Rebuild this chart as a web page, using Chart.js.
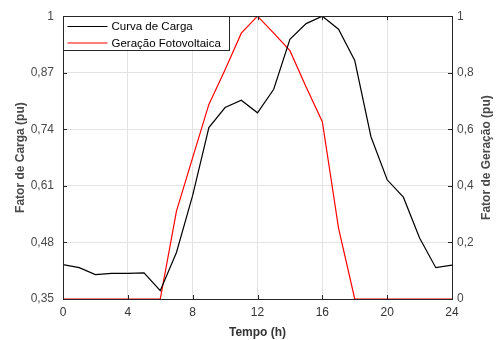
<!DOCTYPE html>
<html>
<head>
<meta charset="utf-8">
<script src="https://cdn.jsdelivr.net/npm/chart.js@4.4.1/dist/chart.umd.min.js"></script>
<style>
  html, body { margin: 0; padding: 0; background: #fff; }
  #wrap { width: 499px; height: 340px; }
</style>
</head>
<body>
<div id="wrap"><canvas id="perfilChart" width="499" height="340"></canvas></div>
<script>
// hourly profiles (pu)
const horas = [0, 1, 2, 3, 4, 5, 6, 7, 8, 9, 10, 11, 12, 13, 14, 15, 16, 17, 18, 19, 20, 21, 22, 23, 24];
const curvaCarga = [0.429, 0.422, 0.406, 0.409, 0.409, 0.410, 0.369, 0.457, 0.588, 0.744, 0.790, 0.807, 0.778,
  0.832, 0.947, 0.983, 1.0, 0.970, 0.898, 0.723, 0.624, 0.584, 0.490, 0.422, 0.428];
const geracaoPV = [0, 0, 0, 0, 0, 0, 0, 0.311, 0.50, 0.688, 0.811, 0.940, 1.0,
  0.94, 0.878, 0.75, 0.627, 0.251, 0, 0, 0, 0, 0, 0, 0];
const ticksHoras = [0, 4, 8, 12, 16, 20, 24];
const ticksCarga = [0.35, 0.48, 0.61, 0.74, 0.87, 1];
const ticksGeracao = [0, 0.2, 0.4, 0.6, 0.8, 1];

const FONT = '"Liberation Sans", Arial, Helvetica, sans-serif';
const TXT = '#4a4a4a';
const GRID = '#e3e3e3';
const EIXO = '#262626';

const virgula = v => String(+v.toFixed(2)).replace('.', ',');

// box around the axes plus inward tick marks on all four sides
const moldura = {
  id: 'moldura',
  afterDatasetsDraw(chart) {
    const { ctx, chartArea: a, scales } = chart;
    const len = 4;
    ctx.save();
    ctx.strokeStyle = EIXO;
    ctx.lineWidth = 1;
    ctx.beginPath();
    scales.x.ticks.forEach(t => {
      const px = Math.round(scales.x.getPixelForValue(t.value)) + 0.5;
      ctx.moveTo(px, a.bottom); ctx.lineTo(px, a.bottom - len);
      ctx.moveTo(px, a.top); ctx.lineTo(px, a.top + len);
    });
    scales.yL.ticks.forEach(t => {
      const py = Math.round(scales.yL.getPixelForValue(t.value)) + 0.5;
      ctx.moveTo(a.left, py); ctx.lineTo(a.left + len, py);
    });
    scales.yR.ticks.forEach(t => {
      const py = Math.round(scales.yR.getPixelForValue(t.value)) + 0.5;
      ctx.moveTo(a.right, py); ctx.lineTo(a.right - len, py);
    });
    ctx.stroke();
    ctx.strokeRect(Math.round(a.left) + 0.5, Math.round(a.top) + 0.5,
      Math.round(a.right - a.left), Math.round(a.bottom - a.top));
    ctx.restore();
  }
};

// right axis title, written bottom-to-top like the left one
const tituloDireito = {
  id: 'tituloDireito',
  afterDraw(chart) {
    const { ctx, chartArea: a } = chart;
    const t = chart.options.scales.yR.title;
    ctx.save();
    ctx.translate(486.5, (a.top + a.bottom) / 2);
    ctx.rotate(-Math.PI / 2);
    ctx.font = 'bold 12px ' + FONT;
    ctx.fillStyle = TXT;
    ctx.textAlign = 'center';
    ctx.textBaseline = 'middle';
    ctx.fillText(t.text, 0, 0);
    ctx.restore();
  }
};

// legend drawn inside the plot, top-left corner
const legenda = {
  id: 'legenda',
  afterDatasetsDraw(chart) {
    const { ctx, chartArea: a } = chart;
    const x0 = Math.round(a.left) + 0.5, y0 = Math.round(a.top) + 0.5;
    const w = 166, h = 34;
    ctx.save();
    ctx.fillStyle = '#fff';
    ctx.fillRect(x0, y0, w, h);
    ctx.strokeStyle = EIXO;
    ctx.lineWidth = 1;
    ctx.strokeRect(x0, y0, w, h);
    ctx.font = '11.5px ' + FONT;
    ctx.textBaseline = 'middle';
    chart.data.datasets.forEach((ds, i) => {
      const yy = y0 + 10 + i * 16.5;
      ctx.strokeStyle = ds.borderColor;
      ctx.lineWidth = 1.2;
      ctx.beginPath();
      ctx.moveTo(x0 + 4, yy); ctx.lineTo(x0 + 44, yy);
      ctx.stroke();
      ctx.fillStyle = '#000';
      ctx.fillText(ds.label, x0 + 48, yy + 0.5);
    });
    ctx.restore();
  }
};

new Chart(document.getElementById('perfilChart'), {
  type: 'line',
  data: {
    datasets: [
      {
        label: 'Curva de Carga',
        data: horas.map((h, i) => ({ x: h, y: curvaCarga[i] })),
        borderColor: '#000000',
        borderWidth: 1.2,
        pointRadius: 0,
        tension: 0,
        yAxisID: 'yL'
      },
      {
        label: 'Geração Fotovoltaica',
        data: horas.map((h, i) => ({ x: h, y: geracaoPV[i] })),
        borderColor: '#ff0000',
        borderWidth: 1.2,
        pointRadius: 0,
        tension: 0,
        yAxisID: 'yR'
      }
    ]
  },
  options: {
    responsive: false,
    animation: false,
    events: [],
    layout: { padding: { top: 14, left: 0, right: 0, bottom: 0 } },
    plugins: {
      legend: { display: false },
      tooltip: { enabled: false }
    },
    scales: {
      x: {
        type: 'linear',
        min: 0, max: 24,
        afterBuildTicks: s => { s.ticks = ticksHoras.map(v => ({ value: v })); },
        afterFit: s => { s.height = 41; },
        grid: { color: GRID, drawTicks: false },
        border: { color: EIXO },
        ticks: { padding: 6, color: '#333', font: { family: FONT, size: 12 } },
        title: {
          display: true, text: 'Tempo (h)', color: '#333',
          font: { family: FONT, size: 12, weight: 'bold' },
          padding: { top: 0, bottom: 0 }
        }
      },
      yL: {
        position: 'left',
        min: 0.35, max: 1,
        afterBuildTicks: s => { s.ticks = ticksCarga.map(v => ({ value: v })); },
        afterFit: s => { s.width = 63; },
        grid: { color: GRID, drawTicks: false },
        border: { color: EIXO },
        ticks: { padding: 9, color: TXT, font: { family: FONT, size: 12 }, callback: virgula },
        title: {
          display: true, text: 'Fator de Carga (pu)', color: TXT,
          font: { family: FONT, size: 12, weight: 'bold' },
          padding: { top: 13.5, bottom: 0 }
        }
      },
      yR: {
        position: 'right',
        min: 0, max: 1,
        afterBuildTicks: s => { s.ticks = ticksGeracao.map(v => ({ value: v })); },
        afterFit: s => { s.width = 47; },
        grid: { display: false, drawTicks: false },
        border: { color: EIXO },
        ticks: { padding: 5, color: TXT, font: { family: FONT, size: 12 }, callback: virgula },
        title: { display: false, text: 'Fator de Geração (pu)' }
      }
    }
  },
  plugins: [moldura, legenda, tituloDireito]
});
</script>
</body>
</html>
